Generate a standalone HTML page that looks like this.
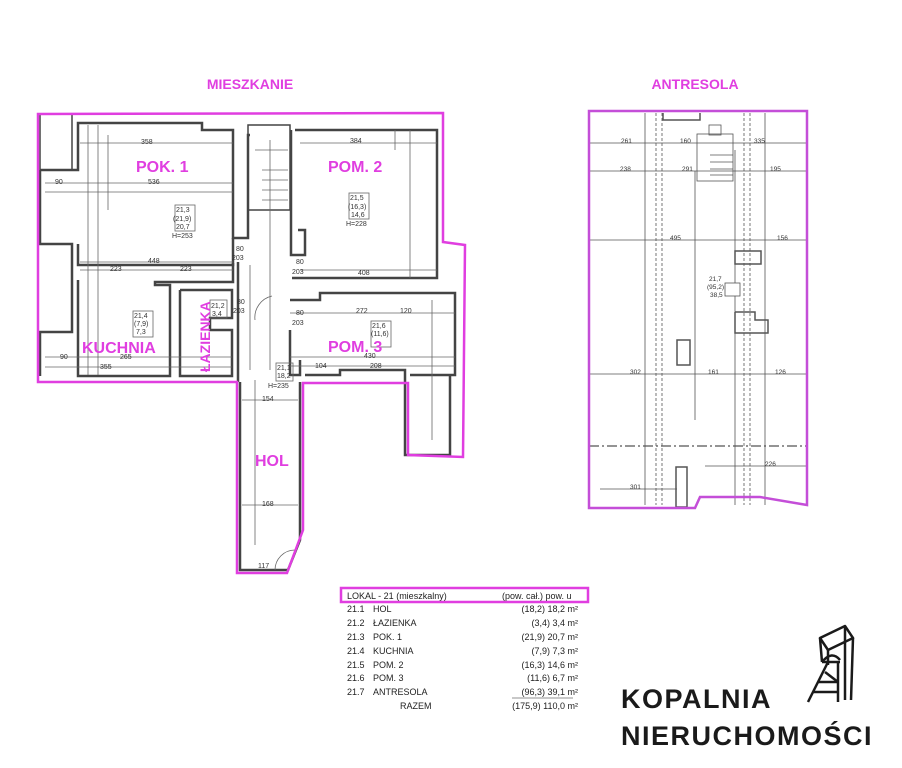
<!DOCTYPE html>
<html><head><meta charset="utf-8"><style>
html,body{margin:0;padding:0;background:#fff;}
svg{display:block}
text{font-family:"Liberation Sans",sans-serif;}
</style></head><body>
<svg width="902" height="768" viewBox="0 0 902 768" xmlns="http://www.w3.org/2000/svg">
<rect width="902" height="768" fill="#fff"/>
<g fill="#e03ee0" font-weight="bold" font-size="15">
<text x="250" y="89" text-anchor="middle" font-size="14">MIESZKANIE</text>
<text x="695" y="89" text-anchor="middle" font-size="14">ANTRESOLA</text>
</g>
<!-- walls mieszkanie -->
<g fill="none" stroke="#444" stroke-width="2.5">
<polyline points="78,145 78,123 202,123 202,130 233,130 233,238 248,238 248,135 250,135"/>
<polyline points="40,170 78,170 78,145"/>
<polyline points="40,170 40,244 72,244 72,332 40,332 40,376"/>
<rect x="40" y="114" width="32" height="56" stroke-width="1.5"/>
<polyline points="78,244 78,265 233,265 233,238"/>
<polyline points="78,280 78,376 170,376 170,285 155,285 155,282 233,282 233,263"/>
<polyline points="180,290 180,376 232,376 232,330 210,330 210,318 232,318 232,290 180,290"/>
<rect x="248" y="125" width="42" height="85" stroke-width="1.5"/>
<polyline points="291,130 291,255 305,255 305,230 298,230"/>
<polyline points="295,130 437,130 437,245"/>
<polyline points="292,278 437,278 437,245"/>
<polyline points="290,300 320,300 320,293 455,293 455,375 410,375"/>
<polyline points="290,330 290,375 300,375 300,360"/>
<polyline points="305,375 340,375 340,370 405,370 405,455 450,455 450,375"/>
<polyline points="240,382 240,570 288,570 300,540 300,382"/>
<polyline points="238,262 238,382"/>
</g>
<g fill="none" stroke="#666" stroke-width="0.8">
<line x1="80" y1="143" x2="233" y2="143"/><line x1="45" y1="183" x2="233" y2="183"/>
<line x1="45" y1="192" x2="233" y2="192"/><line x1="80" y1="262" x2="233" y2="262"/>
<line x1="80" y1="270" x2="233" y2="270"/><line x1="45" y1="357" x2="232" y2="357"/>
<line x1="45" y1="367" x2="232" y2="367"/><line x1="88" y1="125" x2="88" y2="375"/>
<line x1="98" y1="125" x2="98" y2="375"/><line x1="108" y1="135" x2="108" y2="210"/>
<line x1="300" y1="143" x2="437" y2="143"/><line x1="300" y1="270" x2="437" y2="270"/>
<line x1="410" y1="130" x2="410" y2="278"/><line x1="395" y1="130" x2="395" y2="150"/>
<line x1="290" y1="313" x2="455" y2="313"/><line x1="290" y1="357" x2="455" y2="357"/>
<line x1="290" y1="366" x2="455" y2="366"/><line x1="432" y1="300" x2="432" y2="440"/>
<line x1="270" y1="140" x2="270" y2="370"/><line x1="255" y1="380" x2="255" y2="545"/>
<line x1="242" y1="400" x2="298" y2="400"/><line x1="242" y1="505" x2="298" y2="505"/>
<line x1="250" y1="265" x2="250" y2="370"/>
<line x1="255" y1="150" x2="288" y2="150"/><line x1="262" y1="170" x2="288" y2="170"/>
<line x1="262" y1="180" x2="288" y2="180"/><line x1="262" y1="190" x2="288" y2="190"/>
<line x1="262" y1="200" x2="288" y2="200"/>
<rect x="175" y="205" width="20" height="26"/><rect x="349" y="193" width="20" height="26"/>
<rect x="133" y="311" width="20" height="26"/><rect x="371" y="321" width="20" height="26"/>
<rect x="210" y="300" width="17" height="18"/><rect x="276" y="363" width="17" height="18"/>
<path d="M255 320 A22 22 0 0 1 272 296" /><path d="M275 570 A20 20 0 0 1 295 550"/>
</g>
<g fill="#333" font-size="7">
<text x="141" y="144">358</text><text x="148" y="184">536</text><text x="148" y="263">448</text>
<text x="110" y="271">223</text><text x="180" y="271">223</text><text x="55" y="184">90</text>
<text x="60" y="359">90</text><text x="120" y="359">265</text><text x="100" y="369">355</text>
<text x="350" y="143">384</text><text x="358" y="275">408</text><text x="356" y="313">272</text>
<text x="400" y="313">120</text><text x="364" y="358">430</text><text x="370" y="368">208</text>
<text x="315" y="368">104</text><text x="262" y="401">154</text><text x="262" y="506">168</text>
<text x="236" y="251">80</text><text x="232" y="260">203</text><text x="296" y="264">80</text><text x="292" y="274">203</text>
<text x="237" y="304">80</text><text x="233" y="313">203</text><text x="296" y="315">80</text><text x="292" y="325">203</text>
<text x="176" y="212">21,3</text><text x="173" y="221">(21,9)</text><text x="176" y="229">20,7</text><text x="172" y="238">H=253</text>
<text x="350" y="200">21,5</text><text x="348" y="209">(16,3)</text><text x="351" y="217">14,6</text><text x="346" y="226">H=228</text>
<text x="134" y="318">21,4</text><text x="134" y="326">(7,9)</text><text x="136" y="334">7,3</text>
<text x="372" y="328">21,6</text><text x="371" y="336">(11,6)</text>
<text x="211" y="308">21,2</text><text x="212" y="316">3,4</text>
<text x="277" y="370">21,1</text><text x="277" y="378">18,2</text><text x="268" y="388">H=235</text>
<text x="258" y="568">117</text>
</g>
<g fill="#e03ee0" font-weight="bold" font-size="16">
<text x="136" y="172">POK. 1</text><text x="328" y="172">POM. 2</text>
<text x="82" y="353">KUCHNIA</text><text x="328" y="352">POM. 3</text>
<text x="255" y="466">HOL</text>
<text transform="translate(210,372) rotate(-90)" font-size="14">ŁAZIENKA</text>
</g>
<polygon points="38,114 443,113 443,242 465,245 463,457 408,455 408,383 303,383 303,530 287,573 237,573 237,382 38,382" fill="none" stroke="#e03ee0" stroke-width="2.5"/>
<!-- antresola -->
<g fill="none" stroke="#555" stroke-width="0.8">
<line x1="589" y1="143" x2="806" y2="143"/><line x1="589" y1="171" x2="806" y2="171"/>
<line x1="589" y1="240" x2="806" y2="240"/><line x1="589" y1="374" x2="806" y2="374"/>
<line x1="645" y1="113" x2="645" y2="505"/><line x1="695" y1="171" x2="695" y2="420"/>
<line x1="765" y1="113" x2="765" y2="505"/><line x1="735" y1="150" x2="735" y2="505"/>
<line x1="600" y1="489" x2="677" y2="489"/><line x1="705" y1="466" x2="806" y2="466"/>
<g stroke-dasharray="3,2"><line x1="656" y1="113" x2="656" y2="505"/><line x1="662" y1="113" x2="662" y2="505"/>
<line x1="744" y1="113" x2="744" y2="505"/><line x1="750" y1="113" x2="750" y2="505"/></g>
<line x1="589" y1="446" x2="806" y2="446" stroke-dasharray="10,3,2,3" stroke-width="1.2"/>
<rect x="677" y="340" width="13" height="25" stroke-width="1.5"/>
<rect x="735" y="251" width="26" height="13" stroke-width="1.5"/>
<polyline points="735,312 755,312 755,320 768,320 768,333 735,333 735,312" stroke-width="1.5"/>
<rect x="697" y="134" width="36" height="47"/><rect x="709" y="125" width="12" height="10"/>
<line x1="710" y1="155" x2="733" y2="155"/><line x1="710" y1="162" x2="733" y2="162"/>
<line x1="710" y1="169" x2="733" y2="169"/><line x1="710" y1="175" x2="733" y2="175"/>
<polyline points="663,113 663,120 700,120 700,113" stroke-width="1.5"/>
<rect x="676" y="467" width="11" height="40" stroke-width="1.5"/>
<rect x="725" y="283" width="15" height="13" fill="#fff"/>
</g>
<g fill="#333" font-size="6.5">
<text x="621" y="143">261</text><text x="680" y="143">160</text><text x="754" y="143">335</text>
<text x="620" y="171">238</text><text x="682" y="171">291</text><text x="770" y="171">195</text>
<text x="670" y="240">495</text><text x="777" y="240">156</text>
<text x="630" y="374">302</text><text x="708" y="374">161</text><text x="775" y="374">126</text>
<text x="630" y="489">301</text><text x="765" y="466">226</text>
<text x="709" y="281">21,7</text><text x="707" y="289">(95,2)</text><text x="710" y="297">38,5</text>
</g>
<polygon points="589,111 807,111 807,505 760,497 700,497 695,508 589,508" fill="none" stroke="#c44ed8" stroke-width="2.5"/>
<!-- table -->
<rect x="341" y="588" width="247" height="14" fill="none" stroke="#e03ee0" stroke-width="2.5"/>
<g font-size="9" fill="#222">
<text x="347" y="599">LOKAL - 21 (mieszkalny)</text><text x="502" y="599">(pow. cał.)  pow. u</text>
<text x="347" y="612">21.1</text><text x="373" y="612">HOL</text><text x="578" y="612" text-anchor="end">(18,2)  18,2 m²</text>
<text x="347" y="626">21.2</text><text x="373" y="626">ŁAZIENKA</text><text x="578" y="626" text-anchor="end">(3,4)    3,4 m²</text>
<text x="347" y="640">21.3</text><text x="373" y="640">POK. 1</text><text x="578" y="640" text-anchor="end">(21,9)  20,7 m²</text>
<text x="347" y="654">21.4</text><text x="373" y="654">KUCHNIA</text><text x="578" y="654" text-anchor="end">(7,9)    7,3 m²</text>
<text x="347" y="668">21.5</text><text x="373" y="668">POM. 2</text><text x="578" y="668" text-anchor="end">(16,3)  14,6 m²</text>
<text x="347" y="681">21.6</text><text x="373" y="681">POM. 3</text><text x="578" y="681" text-anchor="end">(11,6)    6,7 m²</text>
<text x="347" y="695">21.7</text><text x="373" y="695">ANTRESOLA</text><text x="578" y="695" text-anchor="end">(96,3)  39,1 m²</text>
<line x1="512" y1="698" x2="573" y2="698" stroke="#222" stroke-width="0.6"/>
<text x="400" y="709">RAZEM</text><text x="578" y="709" text-anchor="end">(175,9) 110,0 m²</text>
</g>
<!-- logo -->
<g font-size="27" fill="#1a1a1a" font-weight="bold" letter-spacing="1.5">
<text x="621" y="708">KOPALNIA</text>
<text x="621" y="745">NIERUCHOMOŚCI</text>
</g>
<g fill="none" stroke="#1a1a1a" stroke-width="2.5" stroke-linejoin="round">
<polygon points="820,638 845,626 853,638 828,650"/>
<line x1="820" y1="638" x2="822" y2="662"/><line x1="853" y1="638" x2="851" y2="700"/>
<line x1="828" y1="650" x2="828" y2="665"/><line x1="845" y1="626" x2="845" y2="700"/>
<path d="M822 662 Q832 650 840 660"/>
<line x1="822" y1="662" x2="840" y2="662"/>
<line x1="828" y1="662" x2="808" y2="702"/><line x1="838" y1="662" x2="838" y2="702"/>
<line x1="818" y1="682" x2="838" y2="682"/><line x1="813" y1="692" x2="838" y2="692"/>
<line x1="825" y1="672" x2="838" y2="682"/>
</g>
</svg>
</body></html>
